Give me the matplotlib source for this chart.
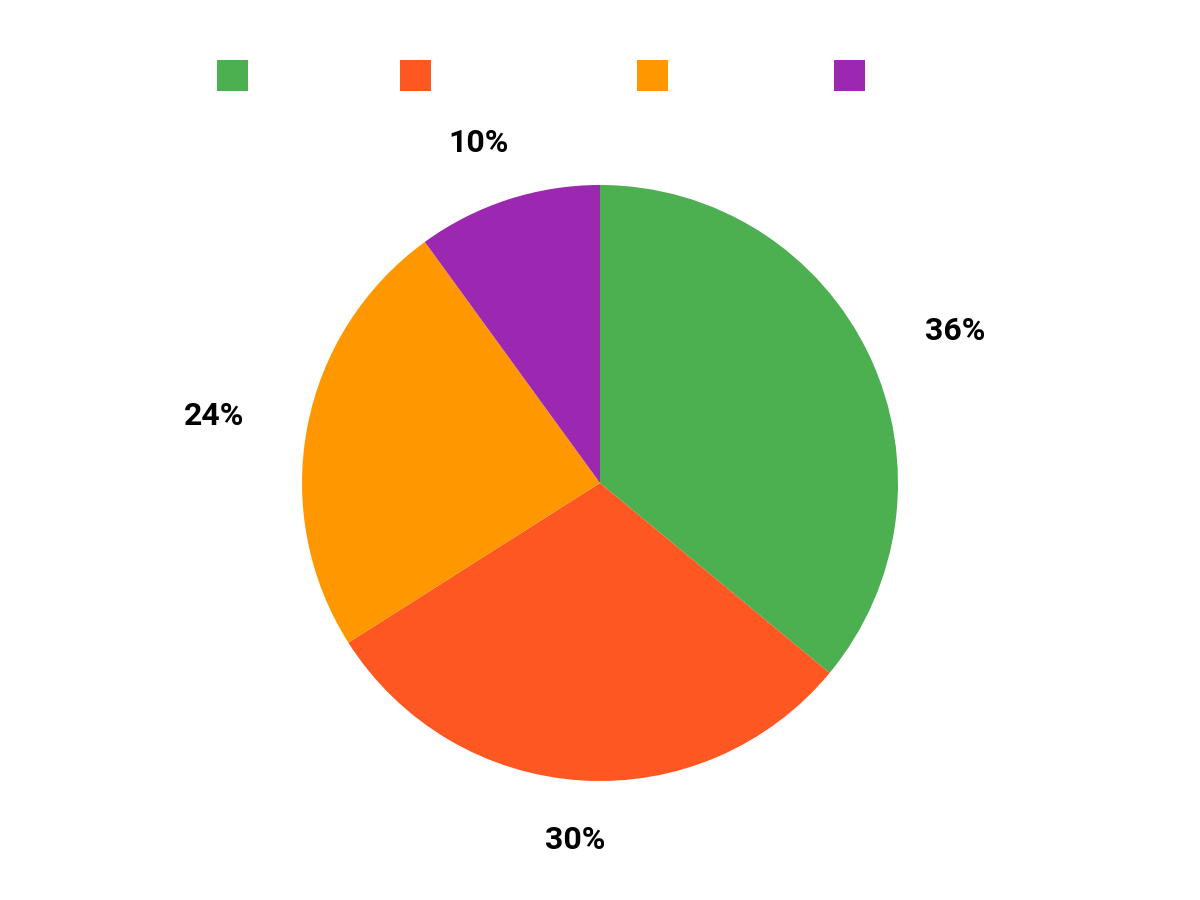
import numpy as np
import matplotlib
matplotlib.use('Agg')
import matplotlib.pyplot as plt
from matplotlib.patches import Rectangle

shares = [36, 30, 24, 10]
colors = ['#4CAF50', '#FF5722', '#FF9800', '#9C27B0']
legend_x = [217, 400, 637, 834]   # left edge of each legend box, px

plt.rcParams['font.family'] = ['Roboto', 'DejaVu Sans']

fig = plt.figure(figsize=(12, 9), dpi=100)
cx, cy, r = 600, 483, 298
ax = fig.add_axes([(cx - r) / 1200, (900 - cy - r) / 900, 2 * r / 1200, 2 * r / 900])

wedges, _ = ax.pie(shares, colors=colors, startangle=90, counterclock=False,
                   radius=1, wedgeprops=dict(linewidth=0))
ax.set_xlim(-1, 1)
ax.set_ylim(-1, 1)
ax.set_aspect('equal')

# outside labels, nudged outward by about half their width
for w, s in zip(wedges, shares):
    ang = np.deg2rad((w.theta1 + w.theta2) / 2)
    x, y = 1.2 * np.cos(ang), 1.2 * np.sin(ang)
    ax.annotate(f'{s}%', xy=(x, y), xytext=(np.cos(ang) * 35, 0),
                textcoords='offset pixels', ha='center', va='center',
                fontsize=23, fontweight='bold', color='black',
                annotation_clip=False)

# legend boxes (labels not shown in the reference)
for lx, col in zip(legend_x, colors):
    fig.patches.append(Rectangle((lx / 1200, (900 - 91) / 900), 31 / 1200, 31 / 900,
                                 transform=fig.transFigure, facecolor=col,
                                 edgecolor='none'))

fig.savefig('out.png', dpi=100, facecolor='white')
